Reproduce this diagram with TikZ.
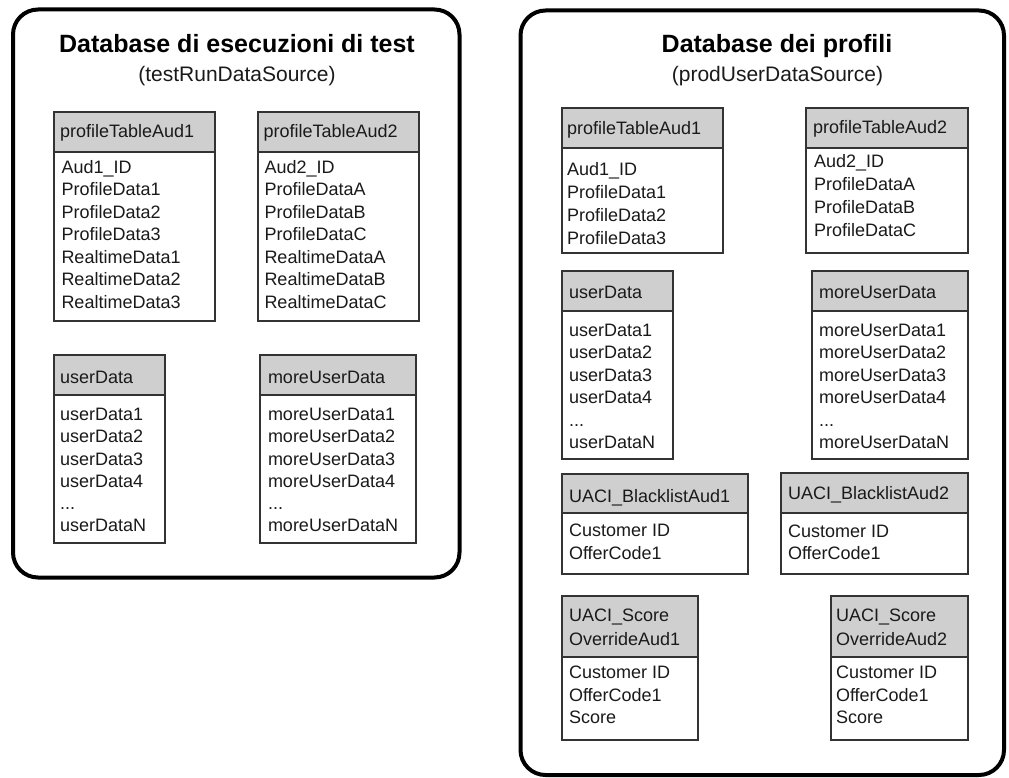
\documentclass[tikz,border=0pt]{standalone}
\usepackage{fontspec}
\setmainfont{Liberation Sans}
\definecolor{hdrgray}{HTML}{CFCFCF}
\definecolor{linegray}{HTML}{333333}
\definecolor{txtcol}{HTML}{1A1A1A}
\tikzset{
  container/.style={draw=black, line width=4pt, rounded corners=25pt},
  hdr/.style={draw=linegray, fill=hdrgray, line width=1.3pt, inner sep=0pt, outer sep=0pt},
  bdy/.style={draw=linegray, fill=white, line width=1.3pt, inner sep=0pt, outer sep=0pt},
  txt/.style={inner sep=0pt, outer sep=0pt, text=txtcol, font=\fontsize{18}{22}\selectfont},
  ttl/.style={inner sep=0pt, text=black, font=\fontsize{25}{30}\selectfont\bfseries},
  sub/.style={inner sep=0pt, text=txtcol, font=\fontsize{21}{25}\selectfont},
}
\newcommand\threedots{...}
% table frame: name, x left, y top, width, header height, body height
\newcommand\dbtab[6]{%
  \node[hdr, minimum width=#4pt, minimum height=#5pt, anchor=north west] (#1h) at (#2,#3) {};
  \node[bdy, minimum width=#4pt, minimum height=#6pt, anchor=north west] (#1b) at (#1h.south west) {};}
% text lines: name, x, first baseline, step, list
\newcommand\dblines[5]{%
  \foreach \t [count=\i] in {#5}
    \node[txt, anchor=base west] (#1-\i) at (#2, {#3+(\i-1)*#4}) {\t};}
\begin{document}
\begin{tikzpicture}[x=1pt, y=-1pt]
\useasboundingbox (0,0) rectangle (1009,778);
\fill[white] (0,0) rectangle (1009,778);

% ---------- left container ----------
\draw[container] (13,9.5) rectangle (459.5,577.5);
\node[ttl, anchor=base] (lt) at (237,53) {Database di esecuzioni di test};
\node[sub, anchor=base] (ls) at (237,82) {(testRunDataSource)};

\dbtab{la}{54}{112}{161}{40}{169}
\dblines{lah}{60}{138}{22.5}{profileTableAud1}
\dblines{lab}{61.5}{173.3}{22.5}{Aud1\_ID,ProfileData1,ProfileData2,ProfileData3,RealtimeData1,RealtimeData2,RealtimeData3}

\dbtab{lb}{258}{112}{161}{40}{169}
\dblines{lbh}{263.5}{138}{22.5}{profileTableAud2}
\dblines{lbb}{264.5}{173.3}{22.5}{Aud2\_ID,ProfileDataA,ProfileDataB,ProfileDataC,RealtimeDataA,RealtimeDataB,RealtimeDataC}

\dbtab{lc}{54}{355}{111}{40}{148}
\dblines{lch}{60}{383}{22.5}{userData}
\dblines{lcb}{60}{420.7}{22.2}{userData1,userData2,userData3,userData4,\threedots,userDataN}

\dbtab{ld}{260}{355}{156}{40}{148}
\dblines{ldh}{268}{383}{22.5}{moreUserData}
\dblines{ldb}{268}{420.7}{22.2}{moreUserData1,moreUserData2,moreUserData3,moreUserData4,\threedots,moreUserDataN}

% ---------- right container ----------
\draw[container] (520.5,10.5) rectangle (1004,775);
\node[ttl, anchor=base] (rt) at (777,53) {Database dei profili};
\node[sub, anchor=base] (rs) at (777.5,82) {(prodUserDataSource)};

\dbtab{ra}{562}{108}{161}{40}{105}
\dblines{rah}{567}{135}{22.5}{profileTableAud1}
\dblines{rab}{567}{176}{22.8}{Aud1\_ID,ProfileData1,ProfileData2,ProfileData3}

\dbtab{rb}{806}{108}{162}{40}{105}
\dblines{rbh}{813}{133.3}{22.5}{profileTableAud2}
\dblines{rbb}{814}{167.7}{22.8}{Aud2\_ID,ProfileDataA,ProfileDataB,ProfileDataC}

\dbtab{rc}{562}{271}{111}{40}{148}
\dblines{rch}{569}{298.3}{22.5}{userData}
\dblines{rcb}{569}{336}{22.5}{userData1,userData2,userData3,userData4,\threedots,userDataN}

\dbtab{rd}{812}{271}{156}{40}{148}
\dblines{rdh}{819}{298.3}{22.5}{moreUserData}
\dblines{rdb}{819}{336}{22.5}{moreUserData1,moreUserData2,moreUserData3,moreUserData4,\threedots,moreUserDataN}

\dbtab{re}{562}{474}{186}{39}{61}
\dblines{reh}{569}{502}{22.5}{UACI\_BlacklistAud1}
\dblines{reb}{569}{536.5}{22.8}{Customer ID,OfferCode1}

\dbtab{rf}{781}{473}{187}{40}{61}
\dblines{rfh}{788}{499.5}{22.5}{UACI\_BlacklistAud2}
\dblines{rfb}{788}{537}{22.5}{Customer ID,OfferCode1}

\dbtab{rg}{562}{596}{136}{61}{83}
\dblines{rgh}{569}{621.7}{23.3}{UACI\_Score,OverrideAud1}
\dblines{rgb}{569}{678.3}{22.8}{Customer ID,OfferCode1,Score}

\dbtab{rh}{831}{596}{137}{61}{83}
\dblines{rhh}{836}{621.7}{23.3}{UACI\_Score,OverrideAud2}
\dblines{rhb}{836}{678.3}{22.8}{Customer ID,OfferCode1,Score}
\end{tikzpicture}
\end{document}
